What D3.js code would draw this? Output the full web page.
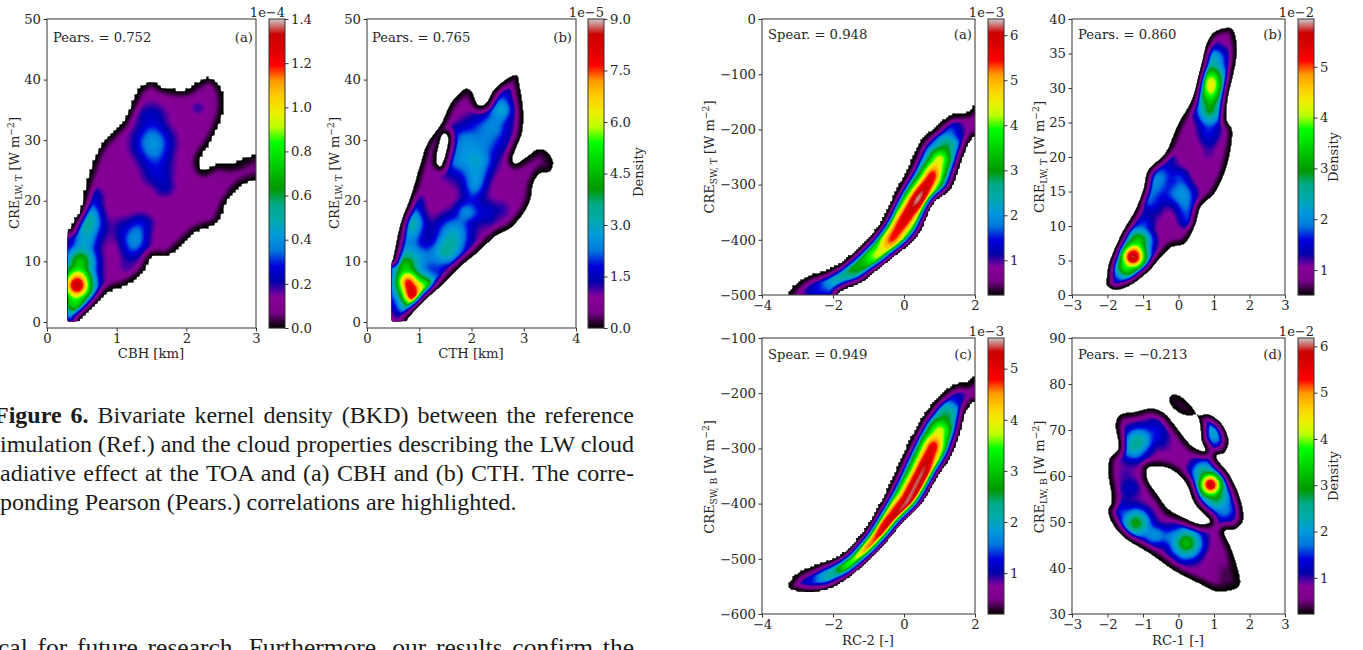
<!DOCTYPE html>
<html>
<head>
<meta charset="utf-8">
<script src="https://cdn.jsdelivr.net/npm/d3@7"></script>
<style>
html, body { margin: 0; padding: 0; background: #fff; overflow: hidden; }
svg { display: block; }
text { font-family: "DejaVu Serif", serif; fill: #262626; }
.caption { font-family: "Liberation Serif", serif; font-size: 24px; fill: #1a1a1a; }
</style>
</head>
<body>
<script>
// ---- values ----
// outlines: [x, y] of the lowest density contour, data units
// ridges: lists of [x, y, density above background, bandwidth]

var cbhOutline = [[0.25,-0.6],[0.25,13.4],[0.47,18.5],[0.59,24],[0.76,29],[0.95,31.4],[1.07,32.8],[1.19,35.5],[1.33,38.6],[1.5,39.8],[1.69,38.7],[2,38.4],[2.15,39.5],[2.32,40.4],[2.48,39.1],[2.54,36.1],[2.48,32.8],[2.34,29.5],[2.22,27.5],[2.19,26.2],[2.24,25.1],[2.44,26.1],[2.67,26.2],[2.89,27.4],[3.1,27.6],[3.1,24.2],[2.77,22.3],[2.58,19.6],[2.44,16.3],[2.15,14.9],[1.91,12.4],[1.72,10.7],[1.53,10.7],[1.38,8],[1.14,6],[0.9,5],[0.71,2.8],[0.5,0.6],[0.45,-0.6]];
var cbhRidges = [
  [[0.38,1.5,0.12,9],[0.4,3.4,0.7,11],[0.43,6,1.25,11],[0.47,9.5,0.6,11],[0.52,12,0.2,10]],
  [[0.52,12,0.14,9],[0.6,16.5,0.42,9],[0.68,20.5,0.14,7]],
  [[1.15,9.5,0.07,7],[1.26,13.2,0.26,9],[1.38,16,0.12,8]],
  [[0.9,15,0.04,9],[1.1,15.5,0.09,9],[1.25,15.5,0.1,8]],
  [[1.5,33.5,0.14,11],[1.52,29.5,0.3,13],[1.58,25,0.16,11],[1.68,22.5,0.12,8]],
  [[2.17,35.3,0.08,5]],
  [[2.6,24.5,-0.04,7],[2.9,26,-0.06,7]]
];

var cthOutline = [[0.4,-0.6],[0.4,8],[0.47,9.6],[0.64,16.3],[0.83,20.7],[1.02,26.2],[1.15,29.5],[1.4,32.5],[1.6,36.1],[1.79,38],[1.91,38.6],[2.01,38],[2.14,35.8],[2.26,36],[2.42,38.3],[2.68,40.2],[2.87,40.8],[2.93,38.8],[3,34.4],[2.97,31.1],[2.87,28.9],[2.79,26.7],[2.84,26.2],[3.06,27.3],[3.25,28.5],[3.41,28.4],[3.57,26.4],[3.51,24.8],[3.32,24.5],[3.19,22.9],[3.13,20.1],[3,17.9],[2.74,15.4],[2.49,14.3],[2.1,11.3],[1.79,9.1],[1.47,6.3],[1.08,3.3],[0.78,0.4],[0.72,-0.6]];
var cthHole = [[1.47,31.1],[1.54,30.6],[1.52,28.4],[1.4,25.7],[1.34,26.2],[1.39,29.5]];
var cthRidges = [
  [[0.65,5,1.5,14],[1.1,5.5,1,12]],
  [[0.72,9,2.4,9],[0.78,6.6,5.8,8],[0.86,4.3,5.6,7],[0.8,2.6,2.2,7]],
  [[0.9,4,1.1,7],[1.12,6.1,3.2,7],[1.3,6.8,1,7]],
  [[0.75,10,1.6,10],[0.8,13,1.7,9],[0.88,16.3,2.6,8],[0.92,19.5,1.1,7]],
  [[1.1,10.5,1.1,9],[1.35,10,0.9,10],[1.6,11.5,1.4,10]],
  [[1.45,12,1.6,10],[1.65,14.6,2.1,13],[1.85,17.5,1,9]],
  [[1.9,18,0.6,8],[2.3,18,0.9,10],[2.55,18.5,0.6,8]],
  [[1.95,19,0.5,7],[2.08,23,1.8,8],[2.15,26,1.5,10]],
  [[1.75,26,0.7,16],[2.4,31,0.9,16],[2.6,35,0.5,10]],
  [[1.75,27,1,10],[1.85,30,1.2,12],[2,31.5,0.7,12]],
  [[2.35,30,0.5,10],[2.45,33,1,9],[2.56,35,1.8,8],[2.62,37.5,1,6]],
  [[3.4,26.5,-0.4,8]],
  [[1.9,37.5,-0.2,6]]
];

var swTopOutline = [[-3.4,-512],[-3.29,-500],[-3.08,-482.5],[-2.7,-466],[-2.14,-455],[-1.67,-437],[-1.11,-404],[-0.64,-368],[-0.26,-316],[0.11,-271],[0.49,-219],[0.86,-198],[1.33,-174],[1.8,-168],[2.1,-150],[2.1,-198],[1.8,-232],[1.62,-262],[1.33,-310],[0.86,-334],[0.39,-395],[-0.26,-431],[-0.73,-455],[-1.2,-479],[-1.67,-491],[-1.86,-500],[-2,-512]];
var swTopRidges = [
  [[-2.9,-490,0.1,7],[-2.4,-492,0.8,10],[-1.9,-470,1.7,10.5],[-1.3,-447,2.5,11],[-0.7,-425,3.7,11],[-0.3,-395,4.9,10.5],[0.1,-355,5.3,10.5],[0.4,-325,5.7,10],[0.75,-290,5.2,9.5],[1,-255,3.8,10],[1.2,-230,2.2,10],[1.3,-205,1,9],[1.3,-190,0.2,7]]
];

var lwTopOutline = [[-2.03,2.1],[-1.99,4.1],[-1.61,8.9],[-1.23,12.3],[-1,15.2],[-0.86,18.1],[-0.39,20.5],[-0.01,24.9],[0.36,28.2],[0.6,32.6],[0.83,37],[1.02,38.2],[1.49,38.7],[1.65,36.5],[1.63,34],[1.39,28.2],[1.37,25.3],[1.51,24.1],[1.49,21.5],[1.3,17.6],[1.02,14.7],[0.64,12.8],[0.46,9.9],[0.17,7.4],[-0.2,6.9],[-0.48,5.5],[-0.86,3.3],[-1.42,1.2],[-1.8,0.7],[-2.03,1.4]];
var lwTopRidges = [
  [[-1.7,2.5,0.8,9],[-1.45,4.2,3,9.5],[-1.28,5.5,5.1,9.5],[-1.13,7.8,2.6,9.5],[-1,10,0.9,8]],
  [[-0.9,14,0.9,8],[-0.6,16.5,1.15,9],[-0.3,19.5,0.55,7]],
  [[0.05,17,0.8,7],[0.15,14.5,1.2,9],[0.25,11,0.85,7]],
  [[-0.6,13,0.35,7],[-0.2,14.5,0.35,6]],
  [[-0.55,11.5,0.12,6]],
  [[0.85,20.5,0.3,7],[0.86,24,0.8,9],[0.88,27,2.2,9],[0.92,30.5,3.6,9],[0.98,34,1.5,10],[1.05,37,0.2,7]],
  [[1.02,17.7,0.08,4]]
];

var swBotOutline = [[-3.25,-547],[-2.99,-526],[-2.33,-508],[-1.77,-493],[-1.2,-456],[-0.73,-408],[-0.36,-360],[0.02,-305],[0.58,-239],[1.15,-197],[1.53,-182],[1.77,-182],[2.1,-163],[2.1,-205],[1.77,-233],[1.62,-269],[1.33,-317],[1,-348],[0.49,-402],[-0.07,-438],[-0.45,-468],[-1,-505],[-1.68,-541],[-2.28,-559],[-3.07,-559],[-3.25,-553]];
var swBotRidges = [
  [[-3,-552,0.05,7],[-2.6,-548,0.7,10],[-2.1,-530,1.5,10.5],[-1.5,-508,2.9,11],[-0.9,-475,4.1,11],[-0.4,-435,4.7,11.5],[0.1,-395,4.9,11],[0.5,-345,4.9,10.5],[0.8,-300,4.5,10.5],[1,-270,3.3,11],[1.2,-240,1.9,11],[1.35,-215,0.7,9]]
];

var lwBotOutline = [[1.11,34.8],[1.68,35.7],[1.75,37.1],[1.49,44.3],[1.3,48],[1.58,48.3],[1.82,50.1],[1.77,54.5],[1.44,60.3],[1.07,64.3],[1.3,65],[1.42,67.5],[1.21,71.5],[0.83,73.5],[0.55,73.3],[0.41,74.8],[0.08,77.3],[-0.15,77.8],[-0.28,76.6],[-0.11,74.4],[0.27,73],[0.5,73.2],[0.6,71.2],[0.64,67.9],[0.74,65.5],[0.41,66.4],[-0.11,71.2],[-0.39,73.7],[-0.77,74.8],[-1.23,74],[-1.66,73.3],[-1.78,71.2],[-1.7,66],[-1.94,63.9],[-1.99,61],[-1.89,54.5],[-1.99,52.3],[-1.85,49.4],[-1.52,46.5],[-0.77,42.9],[-0.11,39.3],[0.55,36.7]];
var lwBotHole = [[-0.86,61.7],[-0.3,61.7],[0.17,58.8],[0.46,53.8],[0.88,50.1],[0.64,49.6],[0.17,50.9],[-0.3,53],[-0.58,55.9],[-0.86,59.2],[-0.88,61]];
var lwBotRidges = [
  [[0.7,60.5,1.4,8],[0.9,58.2,4.5,8],[1.08,55.5,1.3,9],[1.3,52.5,0.5,9]],
  [[0.72,61,0.7,10],[1,56,1.1,12],[1.28,53,0.7,10]],
  [[0.97,69.3,1.5,10]],
  [[-1.25,66.5,1.8,10],[-1.15,67.5,1.9,10],[-0.7,69.5,0.8,10],[-0.2,65,0.15,8]],
  [[-1.5,60,0.3,7],[-1.37,57.5,0.6,8]],
  [[-1.55,52,0.9,8],[-1.2,49.8,2.4,10],[-0.8,47.3,0.9,8]],
  [[-0.5,47,0.75,8],[0,46.3,1.4,10],[0.22,45.4,2.6,11],[0.45,43,0.6,9]],
  [[1.1,41,-0.15,10],[1.5,38,-0.38,13]],
  [[-0.1,76,-0.3,8],[0.2,74.5,-0.25,6]],
  [[-0.25,52.5,-0.3,5]]
];

var xTicksCbh = [0,1,2,3];
var xTicksCth = [0,1,2,3,4];
var yTicksCre = [0,10,20,30,40,50];
var xTicksRc2 = [-4,-2,0,2];
var xTicksRc1 = [-3,-2,-1,0,1,2,3];
var yTicksSwTop = [0,-100,-200,-300,-400,-500];
var yTicksSwBot = [-100,-200,-300,-400,-500,-600];
var yTicksLwTop = [0,5,10,15,20,25,30,35,40];
var yTicksLwBot = [30,40,50,60,70,80,90];
var barTicksCbh = [0,0.2,0.4,0.6,0.8,1,1.2,1.4];
var barTicksCth = [0,1.5,3,4.5,6,7.5,9];
var barTicksSwTop = [1,2,3,4,5,6];
var barTicksLwTop = [1,2,3,4,5];
var barTicksSwBot = [1,2,3,4,5];
var barTicksLwBot = [1,2,3,4,5,6];

var captionLines = [
  ["Bivariate kernel density (BKD) between the reference", 1],
  ["imulation (Ref.) and the cloud properties describing the LW cloud", 1],
  ["adiative effect at the TOA and (a) CBH and (b) CTH. The corre-", 1],
  ["ponding Pearson (Pears.) correlations are highlighted.", 0]
];

// nipy_spectral
var cmapStops = d3.range(0, 1.001, 0.05);
var cmapColors = ["#000000","#780088","#880099","#0000aa","#0000dd","#0077dd","#0099dd","#00aaaa","#00aa88","#009900","#00bb00","#00dd00","#00ff00","#bbff00","#eeee00","#ffcc00","#ff9900","#ff0000","#dd0000","#cc0000","#cccccc"];
var cmap = d3.scaleLinear().domain(cmapStops).range(cmapColors).clamp(true);

// ---- layout ----
var W = 1363, H = 650;
var svg = d3.select("body").append("svg").attr("width", W).attr("height", H);

var panels = [
  {left:47, right:256, top:19, bottom:328, xDom:[0,3], yDom:[-1,50], xTicks:xTicksCbh, yTicks:yTicksCre,
   outline:cbhOutline, holes:[], ridges:cbhRidges, base:0.12, vMin:0, vMax:1.4, barTicks:barTicksCbh, barFmt:".1f",
   cut:{xMin:0.306, yMin:0.2}, step:3, edge:11, barX:269, exp:"1e\u22124", note:"Pears. = 0.752", tag:"(a)", noteX:53, noteY:42, tagX:253,
   xLabel:"CBH [km]", xLabelX:151, xLabelY:358, yName:["LW, T"], yPre:"CRE", yLabelX:19, yLabelY:173, density:null},
  {left:367, right:576, top:19, bottom:328, xDom:[0,4], yDom:[-1,50], xTicks:xTicksCth, yTicks:yTicksCre,
   outline:cthOutline, holes:[cthHole], ridges:cthRidges, base:0.72, vMin:0, vMax:9, barTicks:barTicksCth, barFmt:".1f",
   cut:{xMin:0.47, yMin:0.2}, step:1, edge:10, barX:588, exp:"1e\u22125", note:"Pears. = 0.765", tag:"(b)", noteX:372, noteY:42, tagX:572,
   xLabel:"CTH [km]", xLabelX:471, xLabelY:358, yName:["LW, T"], yPre:"CRE", yLabelX:339, yLabelY:173, density:[643,172]},
  {left:762, right:975, top:19, bottom:295, xDom:[-4,2], yDom:[-500,0], xTicks:xTicksRc2, yTicks:yTicksSwTop,
   outline:swTopOutline, holes:[], ridges:swTopRidges, base:0.72, vMin:0.23, vMax:6.36, barTicks:barTicksSwTop, barFmt:"d",
   cut:{yMin:-500, xMax:2}, step:2, edge:10, barX:988, exp:"1e\u22123", note:"Spear. = 0.948", tag:"(a)", noteX:768, noteY:39, tagX:972,
   xLabel:null, yName:["SW, T"], yPre:"CRE", yLabelX:714, yLabelY:157, density:null},
  {left:1072, right:1285, top:19, bottom:295, xDom:[-3,3], yDom:[0,40], xTicks:xTicksRc1, yTicks:yTicksLwTop,
   outline:lwTopOutline, holes:[], ridges:lwTopRidges, base:0.9, vMin:0.51, vMax:5.94, barTicks:barTicksLwTop, barFmt:"d",
   cut:{}, step:1, edge:9, barX:1298, exp:"1e\u22122", note:"Pears. = 0.860", tag:"(b)", noteX:1078, noteY:39, tagX:1282,
   xLabel:null, yName:["LW, T"], yPre:"CRE", yLabelX:1044, yLabelY:157, density:[1338,157]},
  {left:762, right:975, top:338, bottom:614, xDom:[-4,2], yDom:[-600,-100], xTicks:xTicksRc2, yTicks:yTicksSwBot,
   outline:swBotOutline, holes:[], ridges:swBotRidges, base:0.66, vMin:0.2, vMax:5.6, barTicks:barTicksSwBot, barFmt:"d",
   cut:{xMax:2}, step:2, edge:10, barX:988, exp:"1e\u22123", note:"Spear. = 0.949", tag:"(c)", noteX:768, noteY:359, tagX:972,
   xLabel:"RC-2 [-]", xLabelX:868, xLabelY:645, yName:["SW, B"], yPre:"CRE", yLabelX:714, yLabelY:477, density:null},
  {left:1072, right:1285, top:338, bottom:614, xDom:[-3,3], yDom:[30,90], xTicks:xTicksRc1, yTicks:yTicksLwBot,
   outline:lwBotOutline, holes:[lwBotHole], ridges:lwBotRidges, base:0.7, vMin:0.22, vMax:6.18, barTicks:barTicksLwBot, barFmt:"d",
   cut:{}, step:1, edge:10, barX:1298, exp:"1e\u22122", note:"Pears. = \u22120.213", tag:"(d)", noteX:1078, noteY:359, tagX:1282,
   xLabel:"RC-1 [-]", xLabelX:1178, xLabelY:645, yName:["LW, B"], yPre:"CRE", yLabelX:1044, yLabelY:477, density:[1338,476]}
];
var barW = 16;

// density above background at every grid cell, from the ridge lists
function ridgeField(p, x, y, w, h) {
  var out = new Float64Array(w * h);
  p.ridges.forEach(function(r) {
    var pts = r.map(function(n) { return [x(n[0]), y(n[1]), n[2], n[3]]; });
    if (pts.length == 1) pts.push(pts[0]);
    for (var j = 0; j < h; j++) for (var i = 0; i < w; i++) {
      var px = i + 0.5, py = j + 0.5, best = 0;
      for (var s = 0; s < pts.length - 1; s++) {
        var a = pts[s], b = pts[s + 1];
        var dx = b[0] - a[0], dy = b[1] - a[1], len = dx * dx + dy * dy;
        var t = len > 0 ? Math.max(0, Math.min(1, ((px - a[0]) * dx + (py - a[1]) * dy) / len)) : 0;
        var qx = a[0] + t * dx - px, qy = a[1] + t * dy - py;
        var e = t * t * (3 - 2 * t);
        var amp = a[2] + (b[2] - a[2]) * e, sig = a[3] + (b[3] - a[3]) * t;
        var g = amp * Math.exp(-(qx * qx + qy * qy) / (2 * sig * sig));
        if (Math.abs(g) > Math.abs(best)) best = g;
      }
      out[j * w + i] += best;
    }
  });
  d3.blur2({data: out, width: w, height: h}, 1.5);
  return out;
}

function drawPanel(p) {
  var w = p.right - p.left, h = p.bottom - p.top;
  var x = d3.scaleLinear().domain(p.xDom).range([0, w]);
  var y = d3.scaleLinear().domain(p.yDom).range([h, 0]);
  var g = svg.append("g").attr("transform", "translate(" + p.left + "," + p.top + ")");

  var line = d3.line().x(function(d) { return x(d[0]); }).y(function(d) { return y(d[1]); })
    .curve(d3.curveCatmullRomClosed.alpha(0.5));
  var rings = [p.outline].concat(p.holes).map(function(r) { return line(r); });

  // inside / outside mask
  var cv = document.createElement("canvas");
  cv.width = w; cv.height = h;
  var ctx = cv.getContext("2d", {willReadFrequently: true});
  ctx.fill(new Path2D(rings.join("")), "evenodd");
  var alpha = ctx.getImageData(0, 0, w, h).data;

  // distance to the outline, only near it
  var cut = p.cut, edge = p.edge;
  var dist = new Float64Array(w * h).fill(edge);
  var xMinPx = cut.xMin != null ? x(cut.xMin) : -1e9, xMaxPx = cut.xMax != null ? x(cut.xMax) : 1e9;
  var yMaxPx = cut.yMin != null ? y(cut.yMin) : 1e9;
  rings.forEach(function(d) {
    var tmp = g.append("path").attr("d", d);
    var node = tmp.node(), total = node.getTotalLength();
    for (var l = 0; l < total; l += 1) {
      var pt = node.getPointAtLength(l);
      if (pt.x <= xMinPx + 1 || pt.x >= xMaxPx - 1 || pt.y >= yMaxPx - 1) continue;
      var r = edge + 1;
      for (var j = Math.max(0, Math.floor(pt.y - r)); j < Math.min(h, pt.y + r); j++)
        for (var i = Math.max(0, Math.floor(pt.x - r)); i < Math.min(w, pt.x + r); i++) {
          var dd = Math.hypot(i + 0.5 - pt.x, j + 0.5 - pt.y);
          if (dd < dist[j * w + i]) dist[j * w + i] = dd;
        }
    }
    tmp.remove();
  });

  var field = ridgeField(p, x, y, w, h);
  var range = p.vMax - p.vMin;
  var floorV = p.vMin - 0.01 * range;
  var values = new Float64Array(w * h);
  var st = p.step;
  for (var j = 0; j < h; j++) for (var i = 0; i < w; i++) {
    var ci = Math.min(w - 1, Math.floor(i / st) * st + (st >> 1));
    var cj = Math.min(h - 1, Math.floor(j / st) * st + (st >> 1));
    var px = i + 0.5, py = j + 0.5;
    var inside = alpha[(cj * w + ci) * 4 + 3] > 127 && px >= xMinPx && px <= xMaxPx && py <= yMaxPx;
    if (!inside) { values[j * w + i] = floorV; continue; }
    var ramp = Math.pow(Math.min(1, dist[j * w + i] / edge), 1.5);
    var v = Math.max(p.base + field[j * w + i], p.vMin + 0.03 * range);
    values[j * w + i] = p.vMin + (v - p.vMin) * ramp + 0.001 * range;
  }

  var levels = d3.range(p.vMin + 0.001 * range, p.vMax, range / 110);
  var contours = d3.contours().size([w, h]).thresholds(levels)(values);
  var geo = d3.geoPath();
  g.selectAll("path.band").data(contours).enter().append("path")
    .attr("class", "band")
    .attr("d", geo)
    .attr("fill", function(d) { return cmap((d.value - p.vMin) / range); });

  // axes
  var ax = g.append("g").attr("transform", "translate(0," + h + ")")
    .call(d3.axisBottom(x).tickValues(p.xTicks).tickSize(3.5).tickPadding(2.5).tickFormat(d3.format("d")));
  var ay = g.append("g")
    .call(d3.axisLeft(y).tickValues(p.yTicks).tickSize(3.5).tickPadding(2.5).tickFormat(d3.format("d")));
  [ax, ay].forEach(function(a) {
    a.attr("font-family", null).attr("font-size", 13.2);
    a.select(".domain").remove();
    a.selectAll("line").attr("stroke", "#333").attr("stroke-width", 1);
    a.selectAll("text").attr("fill", "#262626");
  });
  g.append("rect").attr("width", w).attr("height", h).attr("fill", "none")
    .attr("stroke", "#444").attr("stroke-width", 1.1);

  // notes
  svg.append("text").attr("x", p.noteX).attr("y", p.noteY).attr("font-size", 13.2).text(p.note);
  svg.append("text").attr("x", p.tagX).attr("y", p.noteY).attr("font-size", 13.2)
    .attr("text-anchor", "end").text(p.tag);

  if (p.xLabel) svg.append("text").attr("x", p.xLabelX).attr("y", p.xLabelY).attr("font-size", 13.2)
    .attr("text-anchor", "middle").text(p.xLabel);

  var yl = svg.append("text").attr("font-size", 13).attr("text-anchor", "middle")
    .attr("transform", "translate(" + p.yLabelX + "," + p.yLabelY + ") rotate(-90)");
  yl.append("tspan").text(p.yPre);
  yl.append("tspan").attr("font-size", 9.2).attr("dy", 3).text(p.yName[0]);
  yl.append("tspan").attr("dy", -3).text(" [W m");
  yl.append("tspan").attr("font-size", 9.2).attr("dy", -5).text("\u22122");
  yl.append("tspan").attr("dy", 5).text("]");

  // colour bar
  var barY = d3.scaleLinear().domain([p.vMin, p.vMax]).range([p.bottom, p.top]);
  var bar = svg.append("g");
  bar.selectAll("rect").data(d3.range(p.top, p.bottom)).enter().append("rect")
    .attr("x", p.barX).attr("y", function(d) { return d; })
    .attr("width", barW).attr("height", 1.2)
    .attr("fill", function(d) { return cmap((barY.invert(d + 0.5) - p.vMin) / range); });
  var bAx = svg.append("g").attr("transform", "translate(" + (p.barX + barW) + ",0)")
    .call(d3.axisRight(barY).tickValues(p.barTicks).tickSize(3.5).tickPadding(2.5).tickFormat(d3.format(p.barFmt)));
  bAx.attr("font-family", null).attr("font-size", 13.2);
  bAx.select(".domain").remove();
  bAx.selectAll("line").attr("stroke", "#333");
  bAx.selectAll("text").attr("fill", "#262626");
  svg.append("rect").attr("x", p.barX).attr("y", p.top).attr("width", barW).attr("height", h)
    .attr("fill", "none").attr("stroke", "#333").attr("stroke-width", 1);
  svg.append("text").attr("x", p.barX + barW).attr("y", p.top - 2).attr("font-size", 13)
    .attr("text-anchor", "end").text(p.exp);

  if (p.density) svg.append("text").attr("font-size", 13).attr("text-anchor", "middle")
    .attr("transform", "translate(" + p.density[0] + "," + p.density[1] + ") rotate(-90)").text("Density");
}

panels.forEach(drawPanel);

// ---- caption, justified by word spacing ----
var captionRight = 634;
captionLines.forEach(function(l, i) {
  var t = svg.append("text").attr("class", "caption").attr("y", 423 + i * 29);
  var startX = i == 0 ? -6 : 0;
  t.attr("x", startX);
  if (i == 0) t.append("tspan").attr("font-weight", "bold").text("Figure 6. ");
  t.append("tspan").text(l[0]);
  if (l[1]) {
    var full = (i == 0 ? "Figure 6. " : "") + l[0];
    var gaps = full.split(" ").length - 1;
    var extra = (captionRight - startX - t.node().getComputedTextLength()) / gaps;
    t.attr("word-spacing", extra);
  }
});
var lastLine = svg.append("text").attr("class", "caption").attr("x", -2).attr("y", 656)
  .style("font-size", "25.5px")
  .text("cal for future research. Furthermore, our results confirm the");
lastLine.attr("word-spacing", (captionRight + 2 - lastLine.node().getComputedTextLength()) / 8);
</script>
</body>
</html>
